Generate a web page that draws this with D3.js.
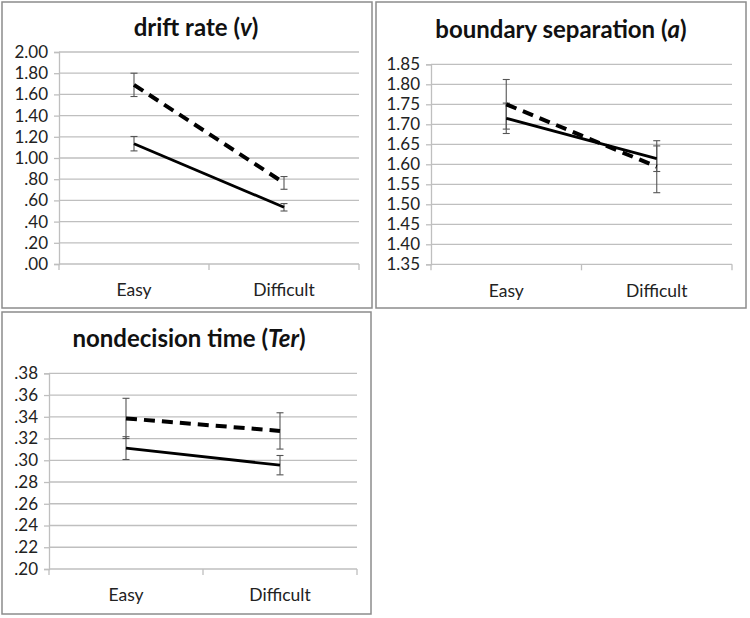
<!DOCTYPE html>
<html><head><meta charset="utf-8">
<script src="https://cdn.jsdelivr.net/npm/d3@7"></script>
<style>body{margin:0;background:#fff}svg{display:block}</style>
</head><body>
<svg id="c" width="750" height="618"></svg>
<script>
const categories = ["Easy", "Difficult"];

// drift rate (v)
const driftDashed = [1.69, 0.765];
const driftDashedErr = [0.11, 0.06];
const driftSolid = [1.135, 0.535];
const driftSolidErr = [0.068, 0.035];
const driftTicks = [0, 0.2, 0.4, 0.6, 0.8, 1.0, 1.2, 1.4, 1.6, 1.8, 2.0];

// boundary separation (a)
const boundDashed = [1.75, 1.594];
const boundDashedErr = [0.062, 0.065];
const boundSolid = [1.715, 1.614];
const boundSolidErr = [0.038, 0.032];
const boundTicks = [1.35, 1.40, 1.45, 1.50, 1.55, 1.60, 1.65, 1.70, 1.75, 1.80, 1.85];

// nondecision time (Ter)
const terDashed = [0.3385, 0.327];
const terDashedErr = [0.0185, 0.0167];
const terSolid = [0.3112, 0.2955];
const terSolidErr = [0.0105, 0.0089];
const terTicks = [0.20, 0.22, 0.24, 0.26, 0.28, 0.30, 0.32, 0.34, 0.36, 0.38];

const svg = d3.select("#c");
const FONT = "Lato, 'Open Sans', sans-serif";

function fmt2(v){ let s = v.toFixed(2); return v < 1 ? s.replace(/^0/, "") : s; }

function panel(o){
  const g = svg.append("g");
  g.append("rect").attr("x", o.box[0]).attr("y", o.box[1]).attr("width", o.box[2]).attr("height", o.box[3])
    .attr("fill", "#fff").attr("stroke", "#8c8c8c").attr("stroke-width", 1.5);
  const title = g.append("text").attr("x", o.titleX).attr("y", o.titleY).attr("text-anchor", "middle")
    .attr("font-family", FONT).attr("font-weight", "bold").attr("font-size", 24).attr("fill", "#111");
  title.append("tspan").text(o.title[0]);
  title.append("tspan").attr("font-style", "italic").text(o.title[1]);
  title.append("tspan").text(")");

  const y = d3.scaleLinear().domain(o.domain).range([o.plot[3], o.plot[1]]);
  const x = d3.scaleBand().domain(categories).range([o.plot[0], o.plot[2]]);
  const cx = d => x(d) + x.bandwidth() / 2;

  // gridlines
  g.append("g").selectAll("line").data(o.ticks).join("line")
    .attr("x1", o.plot[0]).attr("x2", o.plot[2])
    .attr("y1", d => y(d)).attr("y2", d => y(d))
    .attr("stroke", "#bfbfbf").attr("stroke-width", 1.3);
  // y axis
  const ya = d3.axisLeft(y).tickValues(o.ticks).tickSize(5).tickPadding(6).tickFormat(fmt2);
  const yg = g.append("g").attr("transform", `translate(${o.plot[0]},0)`).call(ya);
  yg.select(".domain").attr("stroke", "#bfbfbf").attr("stroke-width", 1.3);
  yg.selectAll(".tick line").attr("stroke", "#bfbfbf").attr("stroke-width", 1.3);
  yg.selectAll("text").attr("font-family", FONT).attr("font-size", 17).attr("fill", "#222");
  // x axis
  const xa = d3.axisBottom(x).tickSize(0).tickPadding(20);
  const xg = g.append("g").attr("transform", `translate(0,${o.plot[3]})`).call(xa);
  xg.select(".domain").remove();
  xg.selectAll("text").attr("font-family", FONT).attr("font-size", 17.5).attr("fill", "#222");
  const edges = [o.plot[0], o.plot[0] + x.bandwidth(), o.plot[2]];
  g.append("g").selectAll("line").data(edges).join("line")
    .attr("x1", d => d).attr("x2", d => d).attr("y1", o.plot[3]).attr("y2", o.plot[3] + 6)
    .attr("stroke", "#bfbfbf").attr("stroke-width", 1.3);

  const line = d3.line().x((d, i) => cx(categories[i])).y(d => y(d));
  const series = [
    {v: o.dashed, e: o.dashedErr, dash: "11,7", w: 4},
    {v: o.solid, e: o.solidErr, dash: null, w: 2.8}
  ];
  // error bars
  series.forEach(s => {
    const eg = g.append("g");
    s.v.forEach((v, i) => {
      const px = cx(categories[i]);
      eg.append("line").attr("x1", px).attr("x2", px).attr("y1", y(v - s.e[i])).attr("y2", y(v + s.e[i]))
        .attr("stroke", "#555").attr("stroke-width", 1.1);
      [v - s.e[i], v + s.e[i]].forEach(t => {
        eg.append("line").attr("x1", px - 3.5).attr("x2", px + 3.5).attr("y1", y(t)).attr("y2", y(t))
          .attr("stroke", "#555").attr("stroke-width", 1.1);
      });
    });
  });
  series.forEach(s => {
    g.append("path").attr("d", line(s.v)).attr("fill", "none").attr("stroke", "#000")
      .attr("stroke-width", s.w).attr("stroke-dasharray", s.dash);
  });
}

panel({box: [2, 2, 370, 306], title: ["drift rate (", "v"], titleX: 196, titleY: 36,
  plot: [59, 52, 359, 264], domain: [0, 2.0], ticks: driftTicks,
  dashed: driftDashed, dashedErr: driftDashedErr, solid: driftSolid, solidErr: driftSolidErr});
panel({box: [376, 2, 370, 306], title: ["boundary separation (", "a"], titleX: 561, titleY: 38,
  plot: [431, 64.3, 732, 264.3], domain: [1.35, 1.85], ticks: boundTicks,
  dashed: boundDashed, dashedErr: boundDashedErr, solid: boundSolid, solidErr: boundSolidErr});
panel({box: [2, 312, 369, 302], title: ["nondecision time (", "Ter"], titleX: 189, titleY: 347,
  plot: [49, 373.3, 357, 569], domain: [0.20, 0.38], ticks: terTicks,
  dashed: terDashed, dashedErr: terDashedErr, solid: terSolid, solidErr: terSolidErr});
</script>
</body></html>
